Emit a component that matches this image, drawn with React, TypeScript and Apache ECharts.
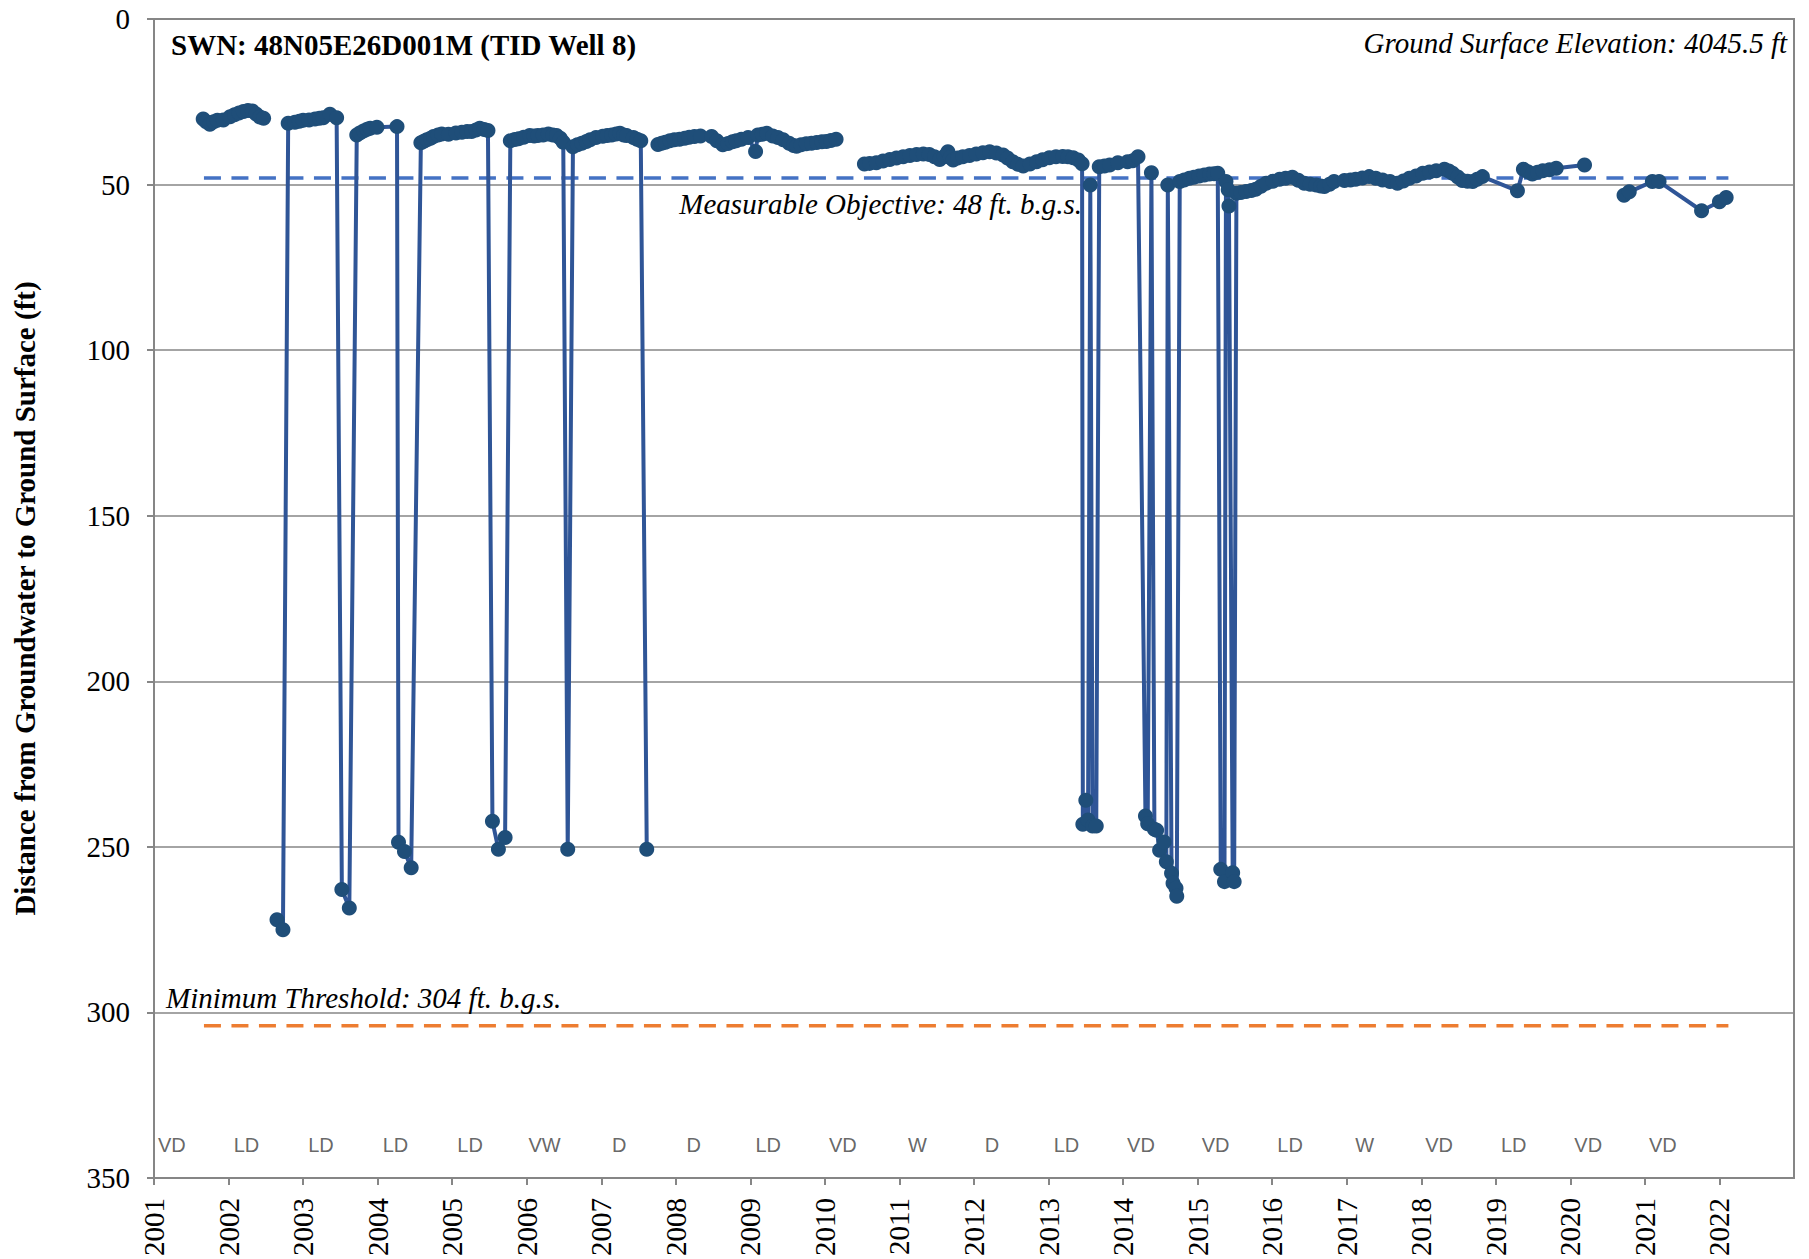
import React, { useEffect, useRef } from "react";
import * as echarts from "echarts";

// ---------------- DATA ----------------
const YEARS = [2001, 2002, 2003, 2004, 2005, 2006, 2007, 2008, 2009, 2010, 2011, 2012, 2013, 2014, 2015, 2016, 2017, 2018, 2019, 2020, 2021, 2022];
const Y_TICKS = [0, 50, 100, 150, 200, 250, 300, 350];

// water year classification shown along bottom (one per year, starting 2001)
const WY_CODES = ["VD", "LD", "LD", "LD", "LD", "VW", "D", "D", "LD", "VD", "W", "D", "LD", "VD", "VD", "LD", "W", "VD", "LD", "VD", "VD"];

const MEASURABLE_OBJECTIVE = 48;
const MINIMUM_THRESHOLD = 304;
const THRESHOLD_SPAN = [2001.67, 2022.12];

// depth to water (ft b.g.s.) — continuous segments (gaps between them)
const seg1: number[][] = [
  [2001.66, 30.2], [2001.70, 31.0], [2001.75, 31.8], [2001.80, 31.0], [2001.85, 30.6], [2001.93, 30.5],
  [2002.02, 29.5], [2002.08, 28.9], [2002.14, 28.4], [2002.20, 27.9], [2002.26, 27.6], [2002.32, 27.8],
  [2002.37, 28.7], [2002.42, 29.6], [2002.47, 30.0],
];
const seg2: number[][] = [
  [2002.65, 272.0], [2002.73, 275.0], [2002.80, 31.5], [2002.89, 31.2], [2002.95, 30.9], [2003.00, 30.6],
  [2003.08, 30.5], [2003.16, 30.2], [2003.22, 30.0], [2003.27, 29.8], [2003.36, 28.8], [2003.45, 29.8],
  [2003.52, 262.9], [2003.62, 268.5], [2003.72, 35.0], [2003.76, 34.4], [2003.81, 33.8], [2003.86, 33.3],
  [2003.90, 33.0], [2003.99, 32.7], [2004.26, 32.5], [2004.28, 248.6], [2004.36, 251.4], [2004.45, 256.3],
  [2004.58, 37.4], [2004.62, 36.9], [2004.66, 36.5], [2004.71, 36.0], [2004.75, 35.5], [2004.81, 35.0],
  [2004.86, 34.7], [2004.95, 34.8], [2005.05, 34.4], [2005.13, 34.2], [2005.20, 34.0], [2005.26, 34.0],
  [2005.32, 33.5], [2005.37, 33.0], [2005.43, 33.4], [2005.48, 33.7], [2005.54, 242.3], [2005.62, 250.7],
  [2005.71, 247.2], [2005.78, 36.8], [2005.84, 36.4], [2005.89, 36.2], [2005.96, 35.7], [2006.04, 35.2],
  [2006.10, 35.3], [2006.15, 35.2], [2006.22, 35.0], [2006.29, 34.7], [2006.35, 35.0], [2006.40, 35.2],
  [2006.45, 36.0], [2006.49, 37.2], [2006.55, 250.7], [2006.62, 38.6], [2006.68, 38.0], [2006.74, 37.5],
  [2006.80, 37.0], [2006.85, 36.5], [2006.93, 35.8], [2007.02, 35.4], [2007.08, 35.2], [2007.14, 35.0],
  [2007.20, 34.7], [2007.25, 34.5], [2007.30, 35.0], [2007.34, 35.2], [2007.43, 35.8], [2007.48, 36.3],
  [2007.53, 36.8], [2007.61, 250.7],
];
const seg3: number[][] = [
  [2007.76, 37.9], [2007.81, 37.5], [2007.86, 37.2], [2007.92, 36.8], [2007.98, 36.5], [2008.05, 36.3],
  [2008.12, 36.0], [2008.18, 35.7], [2008.25, 35.5], [2008.33, 35.3], [2008.48, 35.5], [2008.55, 36.8],
  [2008.63, 38.0], [2008.70, 37.6], [2008.76, 37.1], [2008.81, 36.8], [2008.88, 36.3], [2008.97, 35.8],
  [2009.07, 40.0], [2009.10, 35.0], [2009.16, 34.8], [2009.22, 34.5], [2009.30, 35.3], [2009.37, 35.8],
  [2009.44, 36.5], [2009.52, 37.5], [2009.58, 38.2], [2009.62, 38.4], [2009.68, 38.0], [2009.75, 37.7],
  [2009.82, 37.5], [2009.89, 37.3], [2009.96, 37.1], [2010.02, 37.0], [2010.08, 36.7], [2010.15, 36.3],
];
const seg4: number[][] = [
  [2010.53, 43.8], [2010.60, 43.6], [2010.69, 43.4], [2010.78, 42.9], [2010.87, 42.4], [2010.96, 42.0],
  [2011.05, 41.6], [2011.14, 41.2], [2011.23, 40.9], [2011.32, 40.8], [2011.40, 40.9], [2011.47, 41.6],
  [2011.54, 42.4], [2011.60, 41.5], [2011.65, 40.1], [2011.68, 41.8], [2011.72, 42.6], [2011.78, 42.0],
  [2011.85, 41.6], [2011.94, 41.2], [2012.03, 40.8], [2012.12, 40.4], [2012.21, 40.1], [2012.30, 40.5],
  [2012.39, 41.1], [2012.45, 42.0], [2012.52, 43.1], [2012.59, 43.9], [2012.66, 44.4], [2012.75, 43.8],
  [2012.84, 43.1], [2012.92, 42.5], [2013.01, 41.9], [2013.10, 41.6], [2013.19, 41.5], [2013.26, 41.6],
  [2013.33, 41.9], [2013.40, 42.6], [2013.45, 43.7],
  [2013.46, 243.2], [2013.50, 235.9], [2013.53, 241.9], [2013.56, 50.1], [2013.59, 243.7], [2013.64, 243.7],
  [2013.68, 44.6], [2013.75, 44.4], [2013.82, 44.1], [2013.93, 43.4], [2014.06, 43.1], [2014.13, 42.8],
  [2014.20, 41.6], [2014.30, 240.7], [2014.33, 243.0], [2014.38, 46.4], [2014.42, 244.7], [2014.45, 245.0],
  [2014.49, 251.0], [2014.55, 248.5], [2014.58, 254.5], [2014.60, 50.1], [2014.65, 258.0], [2014.67, 261.0],
  [2014.71, 262.5], [2014.72, 264.9], [2014.76, 49.1], [2014.82, 48.6], [2014.89, 48.1], [2014.95, 47.8],
  [2015.02, 47.4], [2015.09, 47.1], [2015.16, 46.8], [2015.22, 46.7], [2015.27, 46.6], [2015.31, 256.8],
  [2015.36, 260.5], [2015.38, 49.1], [2015.41, 51.6], [2015.42, 56.5], [2015.47, 257.8], [2015.49, 260.5],
  [2015.52, 52.6], [2015.58, 52.4], [2015.65, 52.1], [2015.72, 51.8], [2015.78, 51.4], [2015.85, 50.5],
  [2015.92, 49.6], [2016.01, 49.0], [2016.10, 48.4], [2016.18, 48.1], [2016.27, 47.8], [2016.35, 48.7],
  [2016.43, 49.6], [2016.51, 49.9], [2016.59, 50.1], [2016.65, 50.4], [2016.70, 50.6], [2016.77, 49.9],
  [2016.83, 49.1], [2016.97, 48.8], [2017.05, 48.6], [2017.12, 48.4], [2017.21, 48.0], [2017.30, 47.6],
  [2017.39, 48.1], [2017.48, 48.6], [2017.58, 49.1], [2017.68, 49.6], [2017.76, 48.9], [2017.84, 48.1],
  [2017.93, 47.4], [2018.02, 46.6], [2018.11, 46.2], [2018.20, 45.8], [2018.31, 45.4], [2018.37, 45.9],
  [2018.42, 46.6], [2018.49, 47.7], [2018.55, 48.8], [2018.62, 49.0], [2018.69, 49.1], [2018.75, 48.4],
  [2018.82, 47.6], [2019.29, 51.9], [2019.37, 45.4], [2019.43, 46.1], [2019.49, 46.8], [2019.56, 46.3],
  [2019.63, 45.8], [2019.72, 45.5], [2019.81, 45.1], [2020.19, 44.1],
];
const seg5: number[][] = [
  [2020.72, 53.2], [2020.79, 52.2], [2021.10, 49.1], [2021.19, 49.1], [2021.76, 57.9], [2022.00, 55.2], [2022.09, 53.9],
];
const SEGMENTS = [seg1, seg2, seg3, seg4, seg5];

// ---------------- STYLE ----------------
const SERIF = "Liberation Serif";
const SANS = "Liberation Sans";
const AXIS_GRAY = "#868686";
const LINE_BLUE = "#2F5597";
const MARKER_BLUE = "#1F4E79";
const MO_BLUE = "#4472C4";
const MT_ORANGE = "#ED7D31";
const WY_LABEL_DEPTH = 340;
const WY_LABEL_OFFSET = 0.24;

export default function App() {
  const ref = useRef<HTMLDivElement>(null);

  useEffect(() => {
    document.body.style.margin = "0";
    if (!ref.current) return;
    const chart = echarts.init(ref.current, undefined, { renderer: "svg" });

    const dataSeries = SEGMENTS.map((seg, i) => ({
      name: "seg" + i,
      type: "line",
      data: seg,
      symbol: "circle",
      symbolSize: 15,
      showAllSymbol: true,
      lineStyle: { color: LINE_BLUE, width: 4 },
      itemStyle: { color: MARKER_BLUE },
      z: 5,
      silent: true,
    }));

    const option: any = {
      animation: false,
      backgroundColor: "#ffffff",
      grid: {
        left: 154,
        right: 15,
        top: 19,
        bottom: 81,
        show: true,
        borderColor: AXIS_GRAY,
        borderWidth: 2,
        containLabel: false,
      },
      xAxis: {
        type: "value",
        min: 2001,
        max: 2023,
        interval: 1,
        axisLine: { show: true, onZero: false, lineStyle: { color: AXIS_GRAY, width: 2 } },
        axisTick: { show: true, length: 7, customValues: YEARS, lineStyle: { color: AXIS_GRAY, width: 2 } },
        axisLabel: {
          customValues: YEARS,
          rotate: 90,
          margin: 20,
          color: "#000",
          fontFamily: SERIF,
          fontSize: 29,
          formatter: (v: number) => String(Math.round(v)),
        },
        splitLine: { show: false },
      },
      yAxis: {
        type: "value",
        inverse: true,
        min: 0,
        max: 350,
        interval: 50,
        name: "Distance from Groundwater to Ground Surface (ft)",
        nameLocation: "middle",
        nameRotate: 90,
        nameGap: 115,
        nameTextStyle: { fontFamily: SERIF, fontSize: 29, fontWeight: "bold", color: "#000" },
        axisLine: { show: true, lineStyle: { color: AXIS_GRAY, width: 2 } },
        axisTick: { show: true, length: 7, customValues: Y_TICKS, lineStyle: { color: AXIS_GRAY, width: 2 } },
        axisLabel: { margin: 24, color: "#000", fontFamily: SERIF, fontSize: 29 },
        splitLine: { show: true, lineStyle: { color: AXIS_GRAY, width: 1.5 } },
      },
      series: [
        {
          name: "Measurable Objective",
          type: "line",
          data: THRESHOLD_SPAN.map((x) => [x, MEASURABLE_OBJECTIVE]),
          symbol: "none",
          lineStyle: { color: MO_BLUE, width: 3.5, type: [17, 10.5] },
          z: 3,
          silent: true,
        },
        {
          name: "Minimum Threshold",
          type: "line",
          data: THRESHOLD_SPAN.map((x) => [x, MINIMUM_THRESHOLD]),
          symbol: "none",
          lineStyle: { color: MT_ORANGE, width: 3.5, type: [17, 10.5] },
          z: 3,
          silent: true,
        },
        ...dataSeries,
        {
          name: "Water Year Type",
          type: "scatter",
          symbolSize: 0,
          data: WY_CODES.map((c, i) => ({ value: [YEARS[i] + WY_LABEL_OFFSET, WY_LABEL_DEPTH], code: c })),
          label: {
            show: true,
            position: "inside",
            formatter: (p: any) => p.data.code,
            fontFamily: SANS,
            fontSize: 20,
            color: "#404040",
          },
          silent: true,
          z: 4,
        },
      ],
      graphic: [
        {
          type: "text",
          x: 171,
          y: 45,
          style: {
            text: "SWN: 48N05E26D001M (TID Well 8)",
            font: `bold 29px "${SERIF}"`,
            fill: "#000",
            align: "left",
            textAlign: "left",
            verticalAlign: "middle",
            textVerticalAlign: "middle",
          },
          z: 10,
        },
        {
          type: "text",
          x: 1787,
          y: 43,
          style: {
            text: "Ground Surface Elevation: 4045.5 ft",
            font: `italic 29px "${SERIF}"`,
            fill: "#000",
            align: "right",
            textAlign: "right",
            verticalAlign: "middle",
            textVerticalAlign: "middle",
          },
          z: 10,
        },
        {
          type: "text",
          x: 1082,
          y: 204,
          style: {
            text: "Measurable Objective: 48 ft. b.g.s.",
            font: `italic 29px "${SERIF}"`,
            fill: "#000",
            align: "right",
            textAlign: "right",
            verticalAlign: "middle",
            textVerticalAlign: "middle",
          },
          z: 10,
        },
        {
          type: "text",
          x: 166,
          y: 998,
          style: {
            text: "Minimum Threshold: 304 ft. b.g.s.",
            font: `italic 29px "${SERIF}"`,
            fill: "#000",
            align: "left",
            textAlign: "left",
            verticalAlign: "middle",
            textVerticalAlign: "middle",
          },
          z: 10,
        },
      ],
    };

    chart.setOption(option);
    return () => chart.dispose();
  }, []);

  return (
    <div
      ref={ref}
      style={{ position: "fixed", left: 0, top: 0, width: 1809, height: 1259, background: "#fff" }}
    />
  );
}
